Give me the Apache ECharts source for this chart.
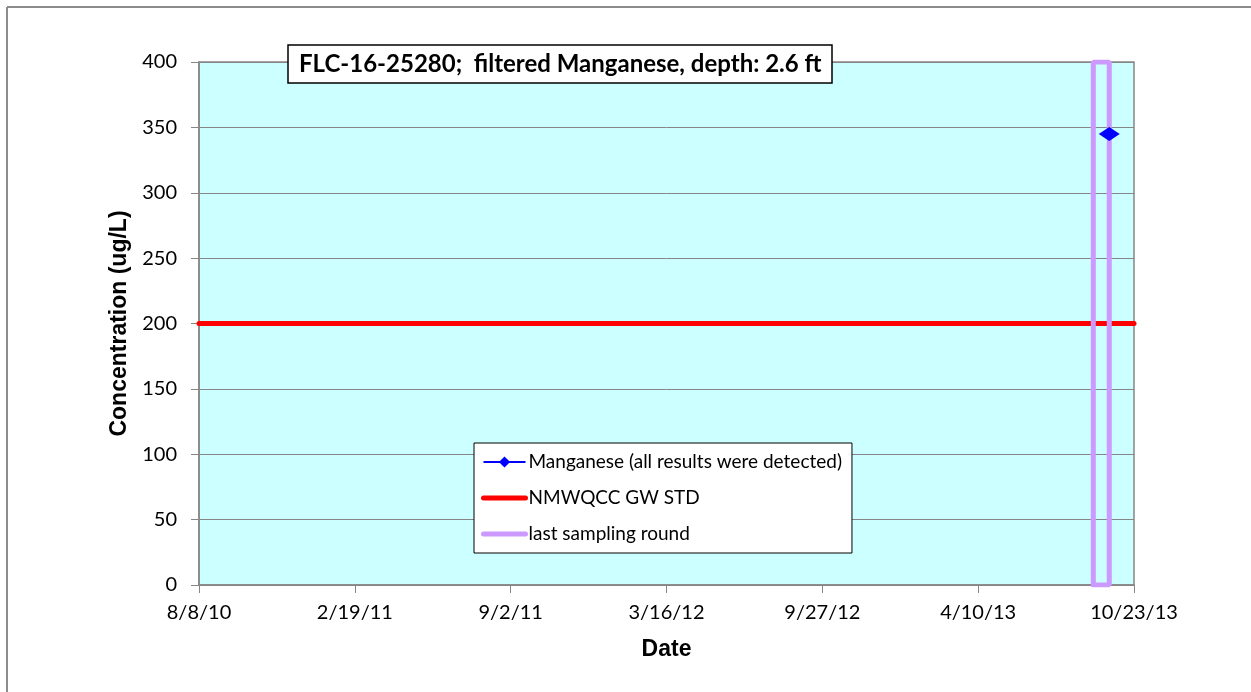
<!DOCTYPE html>
<html>
<head>
<meta charset="utf-8">
<script src="https://cdn.jsdelivr.net/npm/echarts@6/dist/echarts.min.js"></script>
<style>
  html, body { margin: 0; padding: 0; background: #fff; }
  #chart { width: 1251px; height: 692px; }
</style>
</head>
<body>
<div id="chart"></div>
<script>
// axis runs 8/8/10 .. 10/23/13 split into 6 equal steps
const startDate = "8/8/10";
const endDate = "10/23/13";
const tickCount = 6;

const mnDates = ["9/22/13"];
const mnValues = [345];

const stdDates = ["8/8/10", "10/23/13"];
const stdValues = [200, 200];

const roundDates = ["9/2/13", "9/2/13", "9/22/13", "9/22/13", "9/2/13"];
const roundValues = [0, 400, 400, 0, 0];

const toUTC = function(s) {
  const p = s.split("/").map(Number);
  return Date.UTC(2000 + p[2], p[0] - 1, p[1]);
};
const DAY = 86400000;
const t0 = toUTC(startDate);
const dayOf = s => Math.round((toUTC(s) - t0) / DAY);
const pairs = (d, v) => d.map((x, i) => [dayOf(x), v[i]]);
const spanDays = dayOf(endDate);

const fmtDay = function(n) {
  const d = new Date(t0 + Math.floor(n + 1e-6) * DAY);
  return (d.getUTCMonth() + 1) + "/" + d.getUTCDate() + "/" + String(d.getUTCFullYear()).slice(2);
};

const font = "Lato, 'Open Sans', sans-serif";
const boldFont = "'Liberation Sans', Arial, sans-serif";
const chart = echarts.init(document.getElementById("chart"));
chart.setOption({
  animation: false,
  title: {
    text: "FLC-16-25280;  filtered Manganese, depth: 2.6 ft",
    left: 288,
    top: 45,
    padding: [7, 11, 7, 11],
    borderColor: "#000",
    borderWidth: 1.5,
    backgroundColor: "#fff",
    textStyle: { fontFamily: font, fontSize: 24, fontWeight: "bold", color: "#000" }
  },
  grid: {
    left: 199,
    top: 62,
    right: 117,
    bottom: 107,
    show: true,
    backgroundColor: "#ccffff",
    borderColor: "#868686",
    borderWidth: 1.5
  },
  legend: {
    orient: "vertical",
    left: 474,
    top: 443,
    padding: [9, 10, 9, 7],
    itemGap: 16,
    itemWidth: 42,
    itemHeight: 14,
    borderColor: "#000",
    borderWidth: 1,
    backgroundColor: "#fff",
    textStyle: { fontFamily: font, fontSize: 19, lineHeight: 20, color: "#000", padding: [0, 0, 0, -2] },
    data: [
      { name: "Manganese (all results were detected)" },
      { name: "NMWQCC GW STD", itemStyle: { opacity: 0 }, lineStyle: { width: 5 } },
      { name: "last sampling round", itemStyle: { opacity: 0 }, lineStyle: { width: 5 } }
    ]
  },
  xAxis: {
    type: "value",
    min: 0,
    max: spanDays,
    interval: spanDays / tickCount,
    name: "Date",
    nameLocation: "middle",
    nameGap: 53,
    nameTextStyle: { fontFamily: boldFont, fontSize: 23, fontWeight: "bold", color: "#000" },
    axisLine: { lineStyle: { color: "#868686", width: 1.5 } },
    axisTick: { inside: false, length: 8, lineStyle: { color: "#868686" } },
    splitLine: { show: false },
    axisLabel: {
      margin: 18,
      fontFamily: font,
      fontSize: 20,
      color: "#000",
      formatter: fmtDay
    }
  },
  yAxis: {
    type: "value",
    min: 0,
    max: 400,
    interval: 50,
    name: "Concentration (ug/L)",
    nameLocation: "middle",
    nameGap: 66,
    nameTextStyle: { fontFamily: boldFont, fontSize: 23, fontWeight: "bold", color: "#000" },
    axisLine: { show: true, lineStyle: { color: "#868686", width: 1.5 } },
    axisTick: { show: true, length: 8, lineStyle: { color: "#868686" } },
    splitLine: { lineStyle: { color: "#868686", width: 1 } },
    axisLabel: { margin: 22, fontFamily: font, fontSize: 20, color: "#000" }
  },
  series: [
    {
      name: "Manganese (all results were detected)",
      type: "line",
      data: pairs(mnDates, mnValues),
      color: "#0000ff",
      symbol: "diamond",
      symbolSize: [21, 14],
      lineStyle: { width: 1.5, color: "#0000ff" }
    },
    {
      name: "NMWQCC GW STD",
      type: "line",
      data: pairs(stdDates, stdValues),
      color: "#ff0000",
      symbol: "none",
      lineStyle: { width: 5, color: "#ff0000", cap: "round" }
    },
    {
      name: "last sampling round",
      type: "line",
      data: pairs(roundDates, roundValues),
      color: "#cc99ff",
      symbol: "none",
      lineStyle: { width: 5, color: "#cc99ff", cap: "round" }
    }
  ],
  graphic: [
    { type: "line", shape: { x1: 7, y1: 7, x2: 1251, y2: 7 }, style: { stroke: "#8c8c8c", lineWidth: 2 } },
    { type: "line", shape: { x1: 7, y1: 7, x2: 7, y2: 692 }, style: { stroke: "#8c8c8c", lineWidth: 2 } }
  ]
});
</script>
</body>
</html>
